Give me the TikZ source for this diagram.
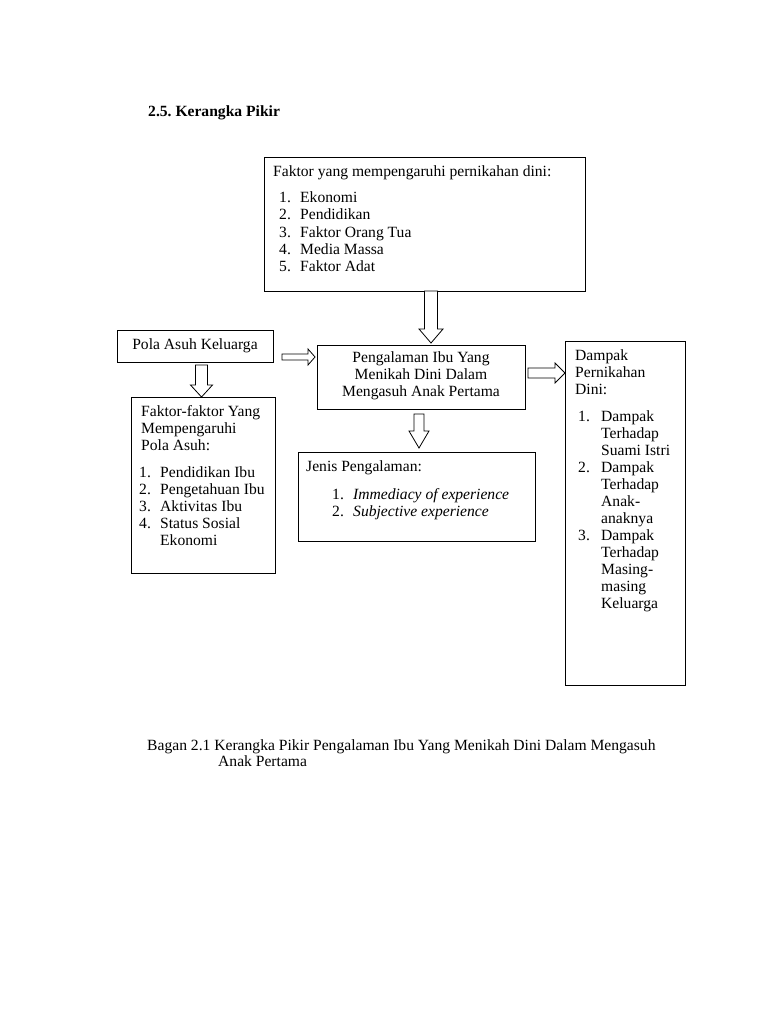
\documentclass[tikz,border=0pt]{standalone}
\usepackage{fontspec}
\setmainfont{Liberation Serif}
\frenchspacing
\newcommand\DArrow[6]{% cx, ytop, yhead, ytip, shaft half, head half
  \draw[blk] (#1-#5,#2) -- (#1+#5,#2) -- (#1+#5,#3) -- (#1+#6,#3) -- (#1,#4) -- (#1-#6,#3) -- (#1-#5,#3) -- cycle;}
\newcommand\RArrow[6]{% cy, xleft, xhead, xtip, shaft half, head half
  \draw[blk] (#2,#1-#5) -- (#3,#1-#5) -- (#3,#1-#6) -- (#4,#1) -- (#3,#1+#6) -- (#3,#1+#5) -- (#2,#1+#5) -- cycle;}
\newcommand\Ln[4]{\node[txt] (#1) at (#2,#3) {#4};}
\newcommand\Cn[4]{\node[ctxt] (#1) at (#2,#3) {#4};}
\begin{document}
\begin{tikzpicture}[x=1pt,y=-1pt,
  box/.style={draw, line width=0.9pt, inner sep=0, anchor=north west},
  txt/.style={anchor=base west, inner sep=0, font=\fontsize{15.6}{17}\selectfont\frenchspacing},
  ctxt/.style={txt, anchor=base},
  blk/.style={draw, line width=0.8pt, fill=white, line join=miter}]
\useasboundingbox (0,0) rectangle (768,1024);
\fill[white] (0,0) rectangle (768,1024);

% title
\node[txt, font=\bfseries\fontsize{15.6}{17}\selectfont\frenchspacing] (title) at (148,117) {2.5. Kerangka Pikir};

% boxes
\node[box, minimum width=321, minimum height=134] (top) at (264,157) {};
\node[box, minimum width=156, minimum height=32] (pola) at (117,330) {};
\node[box, minimum width=144, minimum height=176] (faktor) at (131,397) {};
\node[box, minimum width=208, minimum height=64] (peng) at (317,345) {};
\node[box, minimum width=237, minimum height=89] (jenis) at (298,452) {};
\node[box, minimum width=120, minimum height=344] (dampak) at (565,341) {};

% arrows
\DArrow{431}{291}{329}{343}{6.5}{12}
\DArrow{201.5}{365}{385}{397}{6}{11}
\DArrow{419}{414}{431}{448}{5}{10}
\RArrow{357}{282}{308}{315}{3}{8}
\RArrow{373}{528}{555}{565}{5}{10}

% top box text
\Ln{t0}{273}{177}{Faktor yang mempengaruhi pernikahan dini:}
\Ln{t1n}{279}{203}{1.}\Ln{t1}{300}{203}{Ekonomi}
\Ln{t2n}{279}{220}{2.}\Ln{t2}{300}{220}{Pendidikan}
\Ln{t3n}{279}{237}{3.}\Ln{t3}{300}{237}{Faktor Orang Tua}
\Ln{t4n}{279}{254}{4.}\Ln{t4}{300}{254}{Media Massa}
\Ln{t5n}{279}{271}{5.}\Ln{t5}{300}{271}{Faktor Adat}

% pola
\Cn{p0}{195}{349}{Pola Asuh Keluarga}

% faktor box
\Ln{f0}{141}{416}{Faktor-faktor Yang}
\Ln{f1}{141}{433}{Mempengaruhi}
\Ln{f2}{141}{450}{Pola Asuh:}
\Ln{f3n}{139}{477}{1.}\Ln{f3}{160}{477}{Pendidikan Ibu}
\Ln{f4n}{139}{494}{2.}\Ln{f4}{160}{494}{Pengetahuan Ibu}
\Ln{f5n}{139}{511}{3.}\Ln{f5}{160}{511}{Aktivitas Ibu}
\Ln{f6n}{139}{528}{4.}\Ln{f6}{160}{528}{Status Sosial}
\Ln{f7}{160}{545}{Ekonomi}

% pengalaman
\Cn{g0}{421}{362}{Pengalaman Ibu Yang}
\Cn{g1}{421}{379}{Menikah Dini Dalam}
\Cn{g2}{421}{396}{Mengasuh Anak Pertama}

% jenis
\Ln{j0}{306}{471}{Jenis Pengalaman:}
\Ln{j1n}{332}{499}{1.}\Ln{j1}{353}{499}{\itshape Immediacy of experience}
\Ln{j2n}{332}{516}{2.}\Ln{j2}{353}{516}{\itshape Subjective experience}

% dampak
\Ln{d0}{575}{360}{Dampak}
\Ln{d1}{575}{377}{Pernikahan}
\Ln{d2}{575}{394}{Dini:}
\Ln{d3n}{578}{421}{1.}\Ln{d3}{601}{421}{Dampak}
\Ln{d4}{601}{438}{Terhadap}
\Ln{d5}{601}{455}{Suami Istri}
\Ln{d6n}{578}{472}{2.}\Ln{d6}{601}{472}{Dampak}
\Ln{d7}{601}{489}{Terhadap}
\Ln{d8}{601}{506}{Anak-}
\Ln{d9}{601}{523}{anaknya}
\Ln{d10n}{578}{540}{3.}\Ln{d10}{601}{540}{Dampak}
\Ln{d11}{601}{557}{Terhadap}
\Ln{d12}{601}{574}{Masing-}
\Ln{d13}{601}{591}{masing}
\Ln{d14}{601}{608}{Keluarga}

% caption
\Ln{c0}{147}{750}{Bagan 2.1 Kerangka Pikir Pengalaman Ibu Yang Menikah Dini Dalam Mengasuh}
\Ln{c1}{218}{766}{Anak Pertama}
\end{tikzpicture}
\end{document}
